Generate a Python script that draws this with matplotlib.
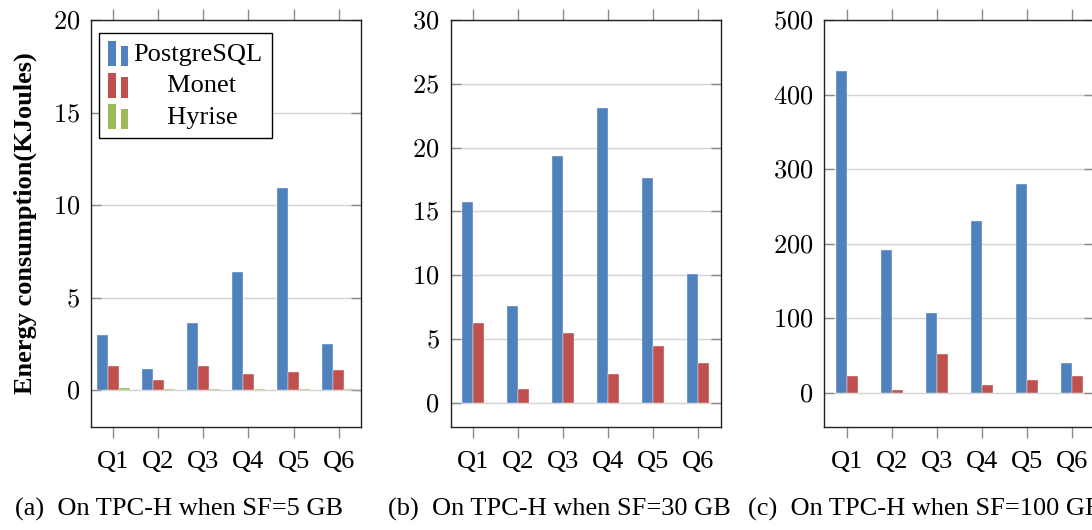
import matplotlib
matplotlib.use("Agg")
import matplotlib.pyplot as plt
from matplotlib.patches import Rectangle
from matplotlib.legend_handler import HandlerBase
from matplotlib.container import BarContainer

# 数据
queries = ["Q1", "Q2", "Q3", "Q4", "Q5", "Q6"]
series_names = ["PostgreSQL", "Monet", "Hyrise"]

# (a) SF=5 GB
sf5_postgres = [2.97, 1.15, 3.64, 6.37, 10.92, 2.47]
sf5_monet = [1.28, 0.52, 1.32, 0.86, 0.97, 1.08]
sf5_hyrise = [0.13, 0.07, 0.07, 0.07, 0.07, 0.07]

# (b) SF=30 GB
sf30_postgres = [15.73, 7.55, 19.31, 23.12, 17.63, 10.06]
sf30_monet = [6.25, 1.05, 5.46, 2.25, 4.44, 3.13]

# (c) SF=100 GB
sf100_postgres = [431, 191, 107, 231, 280.5, 40]
sf100_monet = [22, 4, 52, 10, 17, 22]

yticks_a = [0, 5, 10, 15, 20]
yticks_b = [0, 5, 10, 15, 20, 25, 30]
yticks_c = [0, 100, 200, 300, 400, 500]

captions = ["(a)  On TPC-H when SF=5 GB",
            "(b)  On TPC-H when SF=30 GB",
            "(c)  On TPC-H when SF=100 GB"]

colors = ["#4f81bd", "#c0504d", "#9bbb59"]

plt.rcParams['font.family'] = ['Liberation Serif', 'DejaVu Serif']
plt.rcParams['mathtext.fontset'] = 'cm'
FS = 19


class TwoBarHandler(HandlerBase):
    # pgfplots 风格的图例：两根小柱子
    def create_artists(self, legend, orig_handle, xdescent, ydescent,
                       width, height, fontsize, trans):
        c = orig_handle.patches[0].get_facecolor()
        w = width * 0.36
        r1 = Rectangle((-xdescent, -ydescent - 4), w, height * 1.35,
                       facecolor=c, edgecolor='none', transform=trans)
        r2 = Rectangle((-xdescent + width - w, -ydescent - 4), w, height * 1.1,
                       facecolor=c, edgecolor='none', transform=trans)
        return [r1, r2]


fig = plt.figure(figsize=(10.92, 5.30), dpi=100)

panels = [
    ([0.0833, 0.1943, 0.2473, 0.7679], [sf5_postgres, sf5_monet, sf5_hyrise], (-2, 20), yticks_a),
    ([0.4127, 0.1943, 0.2473, 0.7679], [sf30_postgres, sf30_monet], (-1.9, 30), yticks_b),
    ([0.7549, 0.1943, 0.2473, 0.7679], [sf100_postgres, sf100_monet], (-46, 500), yticks_c),
]
caption_x = [0.0137, 0.3553, 0.6850]

axes = []
for i, (rect, data, ylim, yt) in enumerate(panels):
    ax = fig.add_axes(rect)
    x = list(range(1, len(queries) + 1))
    n = len(data)
    step = 0.245
    bars = []
    for k, vals in enumerate(data):
        off = (k - (n - 1) / 2) * step
        b = ax.bar([xi + off for xi in x], vals, width=0.235, color=colors[k],
                   edgecolor='#f4f4f4', linewidth=0.3, zorder=3)
        bars.append(b)
    ax.set_xlim(0.5, 6.5)
    ax.set_ylim(*ylim)
    ax.set_xticks(x)
    ax.set_xticklabels(queries, fontsize=FS)
    ax.set_yticks(yt)
    ax.set_yticklabels([f"${v}$" for v in yt], fontsize=FS)
    ax.grid(axis='y', color='#d3d3d3', linewidth=1.0, zorder=0)
    ax.tick_params(axis='x', direction='out', length=8, width=1, color='#8c8c8c',
                   top=True, bottom=True, pad=9)
    ax.tick_params(axis='y', direction='in', length=7, width=1, color='#8c8c8c',
                   left=True, right=True, pad=8)
    for s in ax.spines.values():
        s.set_color('#222222')
        s.set_linewidth(1.0)
    fig.text(caption_x[i], 0.038, captions[i], fontsize=FS, va='center', ha='left')
    axes.append((ax, bars))

ax0, bars0 = axes[0]
ax0.set_ylabel("Energy consumption(KJoules)", fontsize=FS, fontweight='bold', labelpad=11)
labels = ["PostgreSQL", "     Monet", "     Hyrise"]
leg = ax0.legend(bars0, labels, loc='upper left', bbox_to_anchor=(0.03, 0.968),
                 fontsize=FS, frameon=True, fancybox=False, framealpha=1,
                 edgecolor='black', handler_map={BarContainer: TwoBarHandler()},
                 handlelength=0.76, handletextpad=0.2, labelspacing=0.3,
                 borderpad=0.35, borderaxespad=0)
leg.get_frame().set_linewidth(1.0)

fig.savefig("out.png", dpi=100)
